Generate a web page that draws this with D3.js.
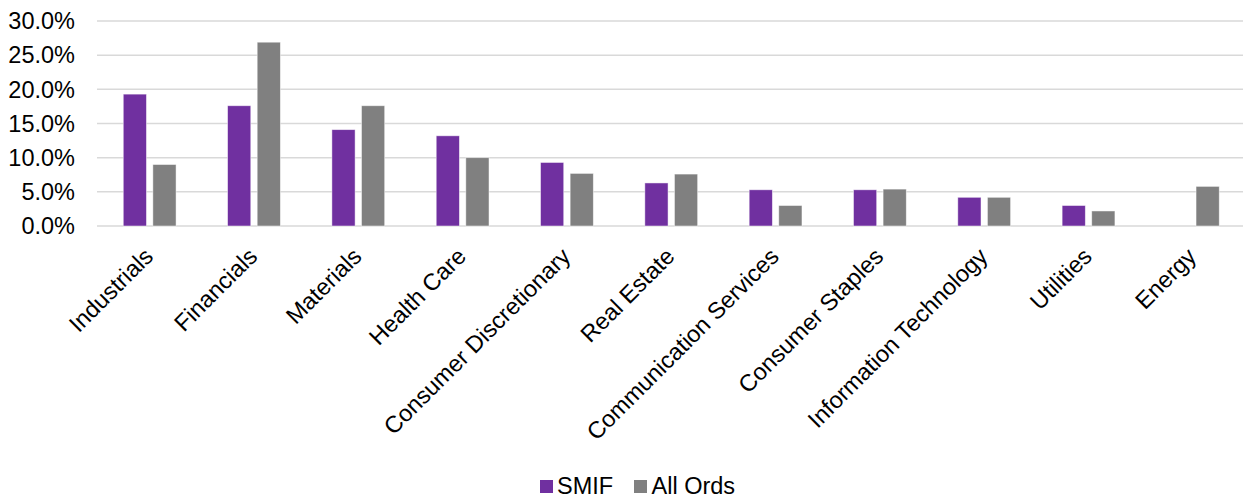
<!DOCTYPE html>
<html>
<head>
<meta charset="utf-8">
<script src="https://cdn.jsdelivr.net/npm/d3@7"></script>
<style>
  body { margin: 0; background: #fff; }
  text { font-family: "Liberation Sans", Arial, sans-serif; fill: #000; }
</style>
</head>
<body>
<svg id="canvas" width="1243" height="497"></svg>
<script>
// ************************************************************************************** //
// Data

var categories = ['Industrials', 'Financials', 'Materials', 'Health Care', 'Consumer Discretionary',
  'Real Estate', 'Communication Services', 'Consumer Staples', 'Information Technology', 'Utilities', 'Energy'];
var series = ['SMIF', 'All Ords'];
var smif = [19.3, 17.6, 14.1, 13.2, 9.3, 6.3, 5.3, 5.3, 4.2, 3.0, 0];
var all_ords = [9.0, 26.9, 17.6, 10.0, 7.7, 7.6, 3.0, 5.4, 4.2, 2.2, 5.8];
var y_ticks = [0, 5, 10, 15, 20, 25, 30];
var colors = ['#7030A0', '#808080'];

// ************************************************************************************** //
// Scales

var svg = d3.select('#canvas');
var font_size = '23.5px';

var x0 = d3.scaleBand().domain(categories).range([97.5, 1245]).padding(0);
var x1 = d3.scaleBand().domain(series).range([0, x0.bandwidth()]).paddingInner(0.216).paddingOuter(0.87);
var y = d3.scaleLinear().domain([0, 30]).range([226, 21]);

// ************************************************************************************** //
// Gridlines and y labels

var grid_g = svg.append('g');
y_ticks.forEach(function(t){
  grid_g.append('line')
    .attr('x1', 97).attr('x2', 1243)
    .attr('y1', y(t)).attr('y2', y(t))
    .style('stroke', '#d9d9d9').style('stroke-width', 1.5);
  grid_g.append('text')
    .attr('x', 75).attr('y', y(t)).attr('dy', '0.35em')
    .attr('text-anchor', 'end')
    .style('font-size', font_size)
    .text(d3.format('.1f')(t) + '%');
});

// ************************************************************************************** //
// Bars

var rows = categories.map(function(c, i){ return { cat: c, values: [smif[i], all_ords[i]] }; });

var groups = svg.append('g').selectAll('g').data(rows).enter().append('g')
  .attr('transform', function(d){ return 'translate(' + x0(d.cat) + ',0)'; });

groups.selectAll('rect').data(function(d){
    return d.values.map(function(v, k){ return { s: series[k], v: v, k: k }; });
  })
  .enter().filter(function(d){ return d.v > 0; }).append('rect')
  .attr('x', function(d){ return x1(d.s); })
  .attr('width', x1.bandwidth())
  .attr('y', function(d){ return y(d.v); })
  .attr('height', function(d){ return y(0) - y(d.v); })
  .style('fill', function(d){ return colors[d.k]; })
  .style('stroke', '#fff').style('stroke-width', 0.8).style('stroke-opacity', 0.6);

// ************************************************************************************** //
// Category labels

svg.append('g').selectAll('text').data(categories).enter().append('text')
  .attr('transform', function(c){
    var cx = x0(c) + x0.bandwidth() / 2;
    return 'translate(' + (cx - 1) + ',' + (y(0) + 26) + ') rotate(-45)';
  })
  .attr('dy', '0.35em')
  .attr('text-anchor', 'end')
  .style('font-size', font_size)
  .text(function(c){ return c; });

// ************************************************************************************** //
// Legend

var legend_items = [{ name: series[0], sx: 540, tx: 557 }, { name: series[1], sx: 634, tx: 651.5 }];
var legend_g = svg.append('g');
legend_items.forEach(function(item, k){
  legend_g.append('rect')
    .attr('x', item.sx).attr('y', 480).attr('width', 13).attr('height', 13)
    .style('fill', colors[k]);
  legend_g.append('text')
    .attr('x', item.tx).attr('y', 493.5)
    .style('font-size', font_size)
    .text(item.name);
});
</script>
</body>
</html>
